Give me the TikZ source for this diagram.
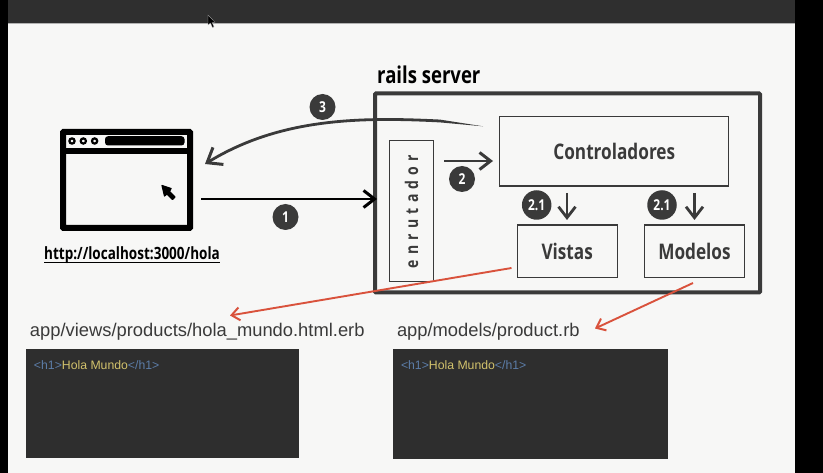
\documentclass[tikz,border=0pt]{standalone}
\usepackage{fontspec}
\setmainfont{Liberation Sans}
\newfontfamily\cond[FakeStretch=0.80]{Open Sans Bold}
\usetikzlibrary{arrows.meta,positioning}
\definecolor{paper}{HTML}{F7F7F6}
\definecolor{bar}{HTML}{2F2F2F}
\definecolor{ink}{HTML}{3A3A3A}
\definecolor{codebg}{HTML}{2E2E2E}
\definecolor{tagblue}{HTML}{5C7DA8}
\definecolor{txtyellow}{HTML}{D2C26C}
\definecolor{redarrow}{HTML}{D9523C}
\tikzset{
  panel/.style={draw=ink,line width=1.2pt,fill=paper,inner sep=0pt,outer sep=0pt},
  badge/.style={circle,fill=ink,text=white,inner sep=0pt,outer sep=0pt,font=\cond\fontsize{15}{15}\selectfont},
  flow/.style={draw=ink,line width=2.4pt,-{Straight Barb[length=11pt,width=17pt,line width=3pt]}},
  downflow/.style={draw=ink,line width=2.2pt,-{Straight Barb[length=11pt,width=17pt,line width=2.8pt]}},
  redflow/.style={draw=redarrow,line width=1.9pt,-{Straight Barb[length=8pt,width=13pt,line width=2pt]}},
  codebox/.style={fill=codebg,draw=none,inner sep=0pt,outer sep=0pt},
  path label/.style={inner sep=0pt,outer sep=0pt,anchor=base west,text=ink,font=\fontsize{18.35}{19}\selectfont},
  code/.style={inner sep=0pt,outer sep=0pt,anchor=base west,font=\fontsize{12.25}{13}\selectfont},
}
\begin{document}
\begin{tikzpicture}[x=1pt,y=-1pt]
\useasboundingbox (0,0) rectangle (823,473);
% screen
\fill[black] (0,0) rectangle (823,473);
\fill[paper] (8,23) rectangle (795,473);
\fill[bar] (8,0) rectangle (795,23);
\draw[gray!60,line width=.5pt] (8,23) -- (795,23);
% pointer in the top bar
\fill[black,draw=white!70!black,line width=.3pt] (208,15) -- (208,25) -- (210.5,23) -- (212.5,27.5) -- (214,26.8) -- (212,22.5) -- (215,22.3) -- cycle;
% browser window
\node[draw=black,line width=6pt,fill=paper,minimum width=127pt,minimum height=96pt,inner sep=0pt,outer sep=3pt,rounded corners=.5pt] (browser) at (126.5,180) {};
\fill[black] (63,148) rectangle (190,154);
\foreach \cx in {72,83.3,94.6} \draw[black,line width=2.2pt] (\cx,141) circle (2.6pt);
\fill[black,rounded corners=3pt] (105,136.2) rectangle (184.5,145.5);
\fill[black,draw=black,line width=1.2pt,line join=round] (162,185.5) -- (171,188.5) -- (169.5,191.5) -- (175,197) -- (172.5,199.5) -- (167,194) -- (164.5,196) -- cycle;
\node[inner sep=0pt,outer sep=0pt,text=black] (url) at (132,255) {\cond\fontsize{16.9}{18}\selectfont http://localhost:3000/hola};
\draw[black,line width=.9pt] (44,262.3) -- (220,262.3);
% server
\node[draw=ink,line width=4pt,minimum width=385pt,minimum height=199pt,inner sep=0pt,outer sep=2pt,rounded corners=1pt] (server) at (567.5,193) {};
\node[inner sep=0pt,text=black,anchor=base west] (title) at (377,84) {\cond\fontsize{23.2}{24}\selectfont rails server};
\node[panel,minimum width=44pt,minimum height=141pt] (router) at (411.5,211.3) {};
\node[rotate=90,inner sep=0pt,text=ink] at (411.5,211.5) {\cond\fontsize{17.5}{18}\selectfont e\hspace{.3em}n\hspace{.3em}r\hspace{.3em}u\hspace{.3em}t\hspace{.3em}a\hspace{.3em}d\hspace{.3em}o\hspace{.3em}r};
\node[panel,minimum width=229pt,minimum height=69.5pt,text=ink,font=\cond\fontsize{21.5}{22}\selectfont] (ctrl) at (614.3,151.3) {Controladores};
\node[panel,minimum width=100pt,minimum height=52.5pt,text=ink,font=\cond\fontsize{21.5}{22}\selectfont] (views) at (567.2,251.3) {Vistas};
\node[panel,minimum width=100pt,minimum height=52.5pt,text=ink,font=\cond\fontsize{21.5}{22}\selectfont] (models) at (694.5,251.3) {Modelos};
% connectors
\coordinate (a1s) at (201,199);
\coordinate (a1e) at (377,199);
\draw[flow,black] (a1s) -- (a1e);
\coordinate (a2s) at (444,161);
\coordinate (a2e) at (493,161);
\draw[flow] (a2s) -- (a2e);
\coordinate (a3s) at (483,126.3);
\coordinate (a3t) at (440,121);
\coordinate (a3e) at (205,164);
\fill[ink] (a3s) -- (440,119.6) -- (440,122.4) -- cycle;
\draw[flow,line width=2.8pt,-{Straight Barb[length=13pt,width=20pt,line width=3pt]}] (a3t) .. controls (360,117) and (280,118) .. (a3e);
\coordinate (a4s) at (567,193);
\coordinate (a4e) at (567,220);
\draw[downflow] (a4s) -- (a4e);
\coordinate (a5s) at (694.5,193);
\coordinate (a5e) at (694.5,220);
\draw[downflow] (a5s) -- (a5e);
% badges
\node[badge,minimum size=26pt] (b1) at (285.5,217) {1};
\node[badge,minimum size=26pt] (b2) at (462,179) {2};
\node[badge,minimum size=26pt] (b3) at (322.5,107) {3};
\node[badge,minimum size=29.5pt] (b21a) at (536.7,205) {2.1};
\node[badge,minimum size=29.5pt] (b21b) at (662,205) {2.1};
% files
\node[path label] (f1) at (30,337) {app/views/products/hola\_mundo.html.erb};
\node[path label] (f2) at (397,336.5) {app/models/product.rb};
\node[codebox,minimum width=273pt,minimum height=109pt] (c1) at (162.2,403.5) {};
\node[codebox,minimum width=275.6pt,minimum height=109.8pt] (c2) at (530.5,403.6) {};
\node[code] at (34,369.5) {\textcolor{tagblue}{<h1>}\textcolor{txtyellow}{Hola Mundo}\textcolor{tagblue}{</h1>}};
\node[code] at (401,369.5) {\textcolor{tagblue}{<h1>}\textcolor{txtyellow}{Hola Mundo}\textcolor{tagblue}{</h1>}};
% red arrows
\coordinate (r1s) at (511.5,268);
\coordinate (r1e) at (230,315.5);
\draw[redflow] (r1s) -- (r1e);
\coordinate (r2s) at (693,283);
\coordinate (r2e) at (595,328.5);
\draw[redflow] (r2s) -- (r2e);
\end{tikzpicture}
\end{document}
